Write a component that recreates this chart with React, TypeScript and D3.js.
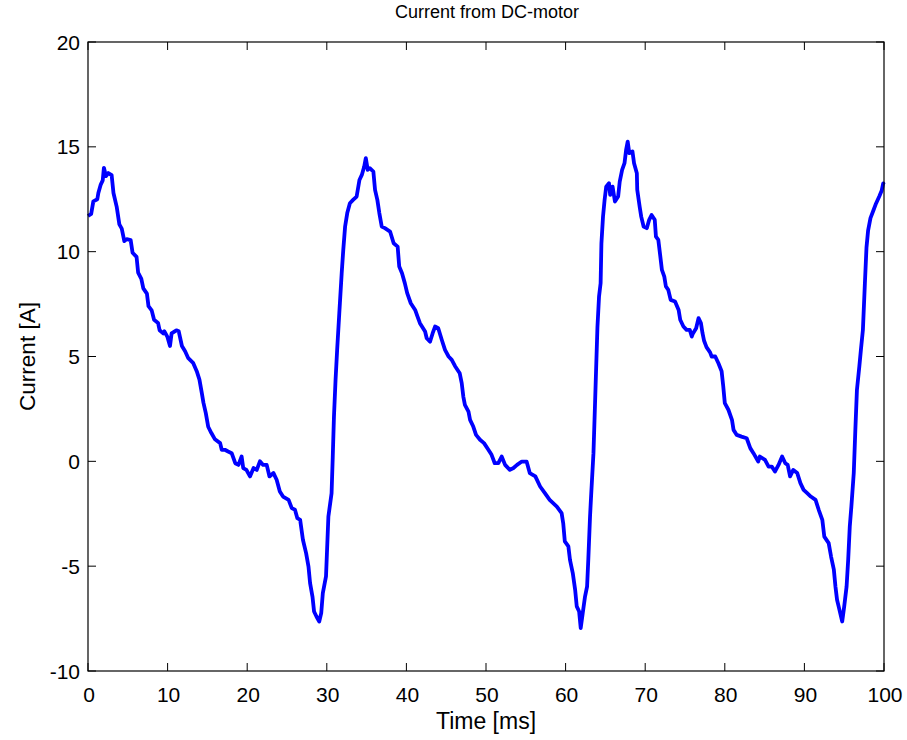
import React from "react";
import * as d3 from "d3";

const timeMs: number[] = [
  0.0, 0.4, 0.67, 1.17, 1.3, 1.6, 1.85, 2.0, 2.26, 2.55, 2.97, 3.2, 3.6, 3.94, 4.24, 4.56, 4.86, 5.36, 5.6, 6.1,
  6.3, 6.7, 6.95, 7.4, 7.6, 8.0, 8.3, 8.8, 9.0, 9.45, 9.6, 9.96, 10.3, 10.5, 11.1, 11.4, 11.8, 12.2, 12.6, 13.2,
  13.66, 14.0, 14.3, 14.5, 14.8, 15.1, 15.5, 15.95, 16.6, 16.8, 17.2, 17.6, 18.05, 18.5, 18.9, 19.3, 19.5, 19.9, 20.35, 20.8,
  21.2, 21.6, 22.0, 22.45, 22.8, 23.3, 23.7, 24.1, 24.5, 25.2, 25.6, 26.0, 26.3, 26.65, 27.0, 27.4, 27.7, 27.9, 28.2, 28.4,
  28.7, 29.05, 29.3, 29.5, 29.9, 30.0, 30.2, 30.6, 30.75, 30.9, 31.1, 31.3, 31.57, 31.87, 32.07, 32.3, 32.57, 32.9, 33.3, 33.75,
  34.1, 34.4, 34.7, 34.9, 35.14, 35.4, 35.85, 36.06, 36.35, 36.6, 36.9, 37.3, 37.95, 38.4, 38.9, 39.1, 39.45, 39.8, 40.1, 40.55,
  41.1, 41.4, 41.7, 42.35, 42.55, 42.97, 43.3, 43.6, 44.0, 44.45, 44.85, 45.3, 45.7, 46.1, 46.7, 46.95, 47.15, 47.35, 47.8, 48.0,
  48.4, 48.75, 49.25, 49.75, 50.3, 50.7, 51.1, 51.55, 51.97, 52.4, 53.0, 53.45, 53.9, 54.5, 55.1, 55.5, 56.2, 56.8, 57.4, 58.0,
  58.9, 59.5, 59.7, 59.9, 60.35, 60.55, 60.9, 61.2, 61.4, 61.7, 61.9, 62.15, 62.44, 62.7, 62.85, 63.07, 63.2, 63.5, 63.7, 63.8,
  64.0, 64.2, 64.4, 64.5, 64.7, 64.9, 65.1, 65.45, 65.6, 65.9, 66.2, 66.6, 66.8, 67.1, 67.4, 67.6, 67.8, 68.0, 68.4, 68.6,
  68.95, 69.0, 69.3, 69.5, 69.8, 70.2, 70.5, 70.8, 71.2, 71.35, 71.65, 71.9, 72.1, 72.4, 72.6, 72.9, 73.2, 73.75, 74.2, 74.4,
  74.8, 75.2, 75.6, 75.85, 76.0, 76.4, 76.7, 77.0, 77.2, 77.4, 77.7, 78.15, 78.35, 78.8, 79.2, 79.6, 79.8, 80.0, 80.45, 80.9,
  81.1, 81.5, 82.1, 82.75, 83.2, 83.6, 84.2, 84.4, 85.05, 85.5, 85.9, 86.3, 86.75, 87.2, 87.6, 87.9, 88.2, 88.6, 89.1, 89.5,
  89.9, 90.35, 90.8, 91.4, 91.8, 92.25, 92.5, 93.05, 93.35, 93.7, 93.9, 94.1, 94.3, 94.75, 95.0, 95.3, 95.5, 95.7, 95.9, 96.2,
  96.4, 96.6, 96.9, 97.1, 97.35, 97.6, 97.8, 98.0, 98.3, 98.7, 99.0, 99.4, 99.7, 99.9, 100.0,
];

const currentA: number[] = [
  11.7, 11.8, 12.4, 12.5, 12.8, 13.2, 13.4, 14.0, 13.6, 13.75, 13.65, 12.8, 12.15, 11.3, 11.1, 10.5, 10.6, 10.55, 9.95, 9.75,
  9.0, 8.7, 8.25, 8.0, 7.4, 7.2, 6.75, 6.6, 6.25, 6.1, 6.2, 5.95, 5.5, 6.1, 6.25, 6.2, 5.5, 5.25, 4.92, 4.7,
  4.3, 3.9, 3.25, 2.8, 2.3, 1.65, 1.35, 1.05, 0.87, 0.55, 0.55, 0.47, 0.39, -0.09, -0.17, 0.23, -0.32, -0.41, -0.72, -0.32,
  -0.41, 0.0, -0.17, -0.17, -0.72, -0.56, -0.88, -1.44, -1.68, -1.84, -2.23, -2.31, -2.71, -2.79, -3.74, -4.38, -5.02, -5.81, -6.45, -7.16,
  -7.4, -7.64, -7.24, -6.29, -5.49, -4.54, -2.63, -1.52, 0.23, 2.14, 3.89, 5.32, 7.07, 8.97, 10.09, 11.2, 11.84, 12.31, 12.47, 12.63,
  13.42, 13.66, 14.06, 14.46, 13.9, 13.98, 13.82, 12.95, 12.47, 11.84, 11.2, 11.12, 10.96, 10.4, 10.24, 9.29, 8.97, 8.5, 8.02, 7.54,
  7.22, 6.9, 6.59, 6.19, 5.87, 5.71, 6.11, 6.43, 6.35, 5.79, 5.32, 5.0, 4.84, 4.55, 4.2, 3.73, 3.09, 2.69, 2.37, 1.98,
  1.66, 1.26, 1.03, 0.87, 0.55, 0.31, -0.09, -0.09, 0.23, -0.17, -0.41, -0.32, -0.17, -0.01, -0.01, -0.56, -0.72, -1.2, -1.52, -1.84,
  -2.16, -2.47, -2.95, -3.82, -4.06, -4.7, -5.33, -6.13, -6.92, -7.16, -7.95, -7.24, -6.45, -5.97, -4.7, -2.63, -1.68, 0.39, 2.78, 4.0,
  6.4, 7.86, 8.5, 10.4, 11.67, 12.47, 13.1, 13.26, 12.71, 13.1, 12.39, 12.63, 13.34, 13.9, 14.22, 14.85, 15.25, 14.7, 14.78, 14.22,
  13.74, 12.95, 12.15, 11.67, 11.2, 11.12, 11.52, 11.75, 11.52, 10.72, 10.56, 9.77, 9.13, 8.81, 8.34, 8.18, 7.7, 7.62, 7.22, 6.75,
  6.43, 6.27, 6.27, 5.95, 6.1, 6.35, 6.83, 6.59, 6.11, 5.75, 5.45, 5.2, 5.0, 5.0, 4.68, 4.3, 3.6, 2.78, 2.46, 1.98,
  1.5, 1.26, 1.18, 1.1, 0.63, 0.39, -0.01, 0.23, 0.07, -0.25, -0.25, -0.49, -0.17, 0.23, -0.09, -0.17, -0.72, -0.41, -0.56, -1.04,
  -1.36, -1.52, -1.68, -1.84, -2.31, -2.79, -3.59, -3.9, -4.54, -5.17, -5.97, -6.6, -6.92, -7.64, -6.92, -5.97, -4.7, -3.11, -2.16, -0.56,
  1.5, 3.41, 4.52, 5.32, 6.27, 8.5, 10.2, 11.0, 11.6, 12.0, 12.3, 12.63, 12.9, 13.26, 13.2,
];

const xTicks: number[] = [0, 10, 20, 30, 40, 50, 60, 70, 80, 90, 100];
const yTicks: number[] = [-10, -5, 0, 5, 10, 15, 20];

const titleText = "Current from DC-motor";
const xLabelText = "Time [ms]";
const yLabelText = "Current [A]";

export default function App() {
  const W = 907, H = 740;
  const L = 88, R = 884, T = 42, B = 671;
  const x = d3.scaleLinear().domain([0, 100]).range([L, R]);
  const y = d3.scaleLinear().domain([-10, 20]).range([B, T]);
  const pts = timeMs.map((t, i) => [t, currentA[i]] as [number, number]);
  const line = d3.line<[number, number]>().x(d => x(d[0])).y(d => y(d[1]));
  const tl = 8;
  const font = "'Liberation Sans', Arial, sans-serif";
  return (
    <svg width={W} height={H} style={{ position: "absolute", left: 0, top: 0, background: "#fff" }}>
      <rect x={0} y={0} width={W} height={H} fill="#fff" />
      <path d={line(pts) || ""} fill="none" stroke="#0000ff" strokeWidth={3.8} strokeLinejoin="round" />
      <rect x={L} y={T} width={R - L} height={B - T} fill="none" stroke="#000" strokeWidth={1.2} />
      {xTicks.map(t => (
        <g key={"xt" + t}>
          <line x1={x(t)} x2={x(t)} y1={B} y2={B - tl} stroke="#000" strokeWidth={1} />
          <line x1={x(t)} x2={x(t)} y1={T} y2={T + tl} stroke="#000" strokeWidth={1} />
          <text x={x(t) + 1} y={702} textAnchor="middle" fontFamily={font} fontSize={21} fill="#000">{t}</text>
        </g>
      ))}
      {yTicks.map(v => (
        <g key={"yt" + v}>
          <line x1={L} x2={L + tl} y1={y(v)} y2={y(v)} stroke="#000" strokeWidth={1} />
          <line x1={R} x2={R - tl} y1={y(v)} y2={y(v)} stroke="#000" strokeWidth={1} />
          <text x={80} y={y(v) + 7.5} textAnchor="end" fontFamily={font} fontSize={21} fill="#000">{v}</text>
        </g>
      ))}
      <text x={(L + R) / 2 + 1} y={18} textAnchor="middle" fontFamily={font} fontSize={18} fill="#000">{titleText}</text>
      <text x={(L + R) / 2} y={729} textAnchor="middle" fontFamily={font} fontSize={23} fill="#000">{xLabelText}</text>
      <text transform={`translate(35,${(T + B) / 2}) rotate(-90)`} textAnchor="middle" fontFamily={font} fontSize={22.5} fill="#000">{yLabelText}</text>
    </svg>
  );
}
